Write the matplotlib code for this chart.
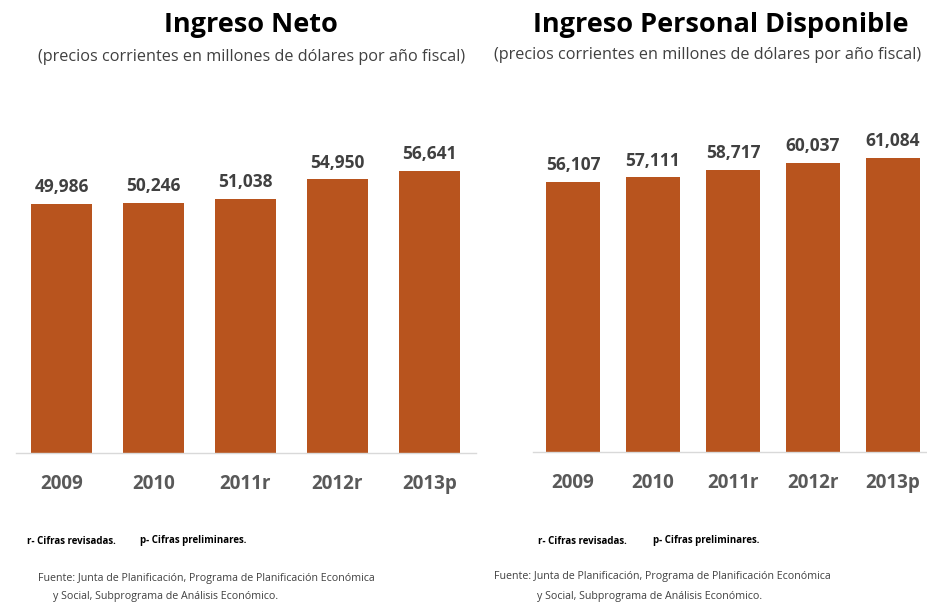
import numpy as np
import matplotlib
matplotlib.use('Agg')
import matplotlib.pyplot as plt

plt.rcParams['font.family'] = ['Open Sans', 'DejaVu Sans']

years = ["2009", "2010", "2011r", "2012r", "2013p"]
ingreso_neto = [49986, 50246, 51038, 54950, 56641]
ingreso_disponible = [56107, 57111, 58717, 60037, 61084]

BAR = '#B8541E'
TXT = '#404040'
TICK = '#595959'

W, H = 927, 603
fig = plt.figure(figsize=(W / 100, H / 100), dpi=100)
fig.patch.set_facecolor('white')


def px_axes(x0, x1, ytop, ybase):
    return fig.add_axes([x0 / W, (H - ybase) / H, (x1 - x0) / W, (ybase - ytop) / H])


def draw_panel(ax, values, ymax, width):
    x = np.arange(len(years))
    ax.bar(x, values, width=width, color=BAR, zorder=2)
    ax.set_xlim(-0.5, 4.5)
    ax.set_ylim(0, ymax)
    for s in ['top', 'right', 'left', 'bottom']:
        ax.spines[s].set_visible(False)
    ax.axhline(0, color='#D9D9D9', lw=1.0, clip_on=False)
    ax.set_yticks([])
    ax.set_xticks(x)
    ax.set_xticklabels(years, fontsize=13.5, fontweight='bold', color=TICK)
    ax.tick_params(axis='x', length=0, pad=15)
    for xi, v in zip(x, values):
        ax.text(xi, v + ymax * 0.022, f"{v:,}", ha='center', va='bottom',
                fontsize=12.5, fontweight='bold', color=TXT)


# left panel: spacing 92 px, centers 61.5 .. 429
axl = px_axes(15.5, 475.5, 100, 453)
draw_panel(axl, ingreso_neto, 353 / 0.00498, 0.66)

# right panel: spacing 80 px, centers 573 .. 893
axr = px_axes(533, 933, 100, 452)
draw_panel(axr, ingreso_disponible, 352 / 0.00481, 0.67)

# titles
fig.text(251 / W, 1 - 25 / H, "Ingreso Neto", ha='center', va='center',
         fontsize=19.5, fontweight='bold', color='black')
fig.text(252 / W, 1 - 57 / H, "(precios corrientes en millones de dólares por año fiscal)",
         ha='center', va='center', fontsize=11.7, color=TXT)
fig.text(721 / W, 1 - 25 / H, "Ingreso Personal Disponible", ha='center', va='center',
         fontsize=19.5, fontweight='bold', color='black')
fig.text(708 / W, 1 - 55 / H, "(precios corrientes en millones de dólares por año fiscal)",
         ha='center', va='center', fontsize=11.7, color=TXT)

# footnotes
for xr, xp in [(27, 140), (538, 653)]:
    fig.text(xr / W, 1 - 541 / H, "r- Cifras revisadas.", ha='left', va='center',
             fontsize=7, fontweight='bold', color='black')
    fig.text(xp / W, 1 - 541 / H, "p- Cifras preliminares.", ha='left', va='center',
             fontsize=7, fontweight='bold', color='black')

for x1, x2, y1 in [(38, 53, 578), (494, 537, 577)]:
    fig.text(x1 / W, 1 - y1 / H, "Fuente: Junta de Planificación, Programa de Planificación Económica",
             ha='left', va='center', fontsize=7.7, color=TXT)
    fig.text(x2 / W, 1 - (y1 + 19) / H, "y Social, Subprograma de Análisis Económico.",
             ha='left', va='center', fontsize=7.7, color=TXT)

fig.savefig("out.png", dpi=100, facecolor='white')
plt.close('all')
